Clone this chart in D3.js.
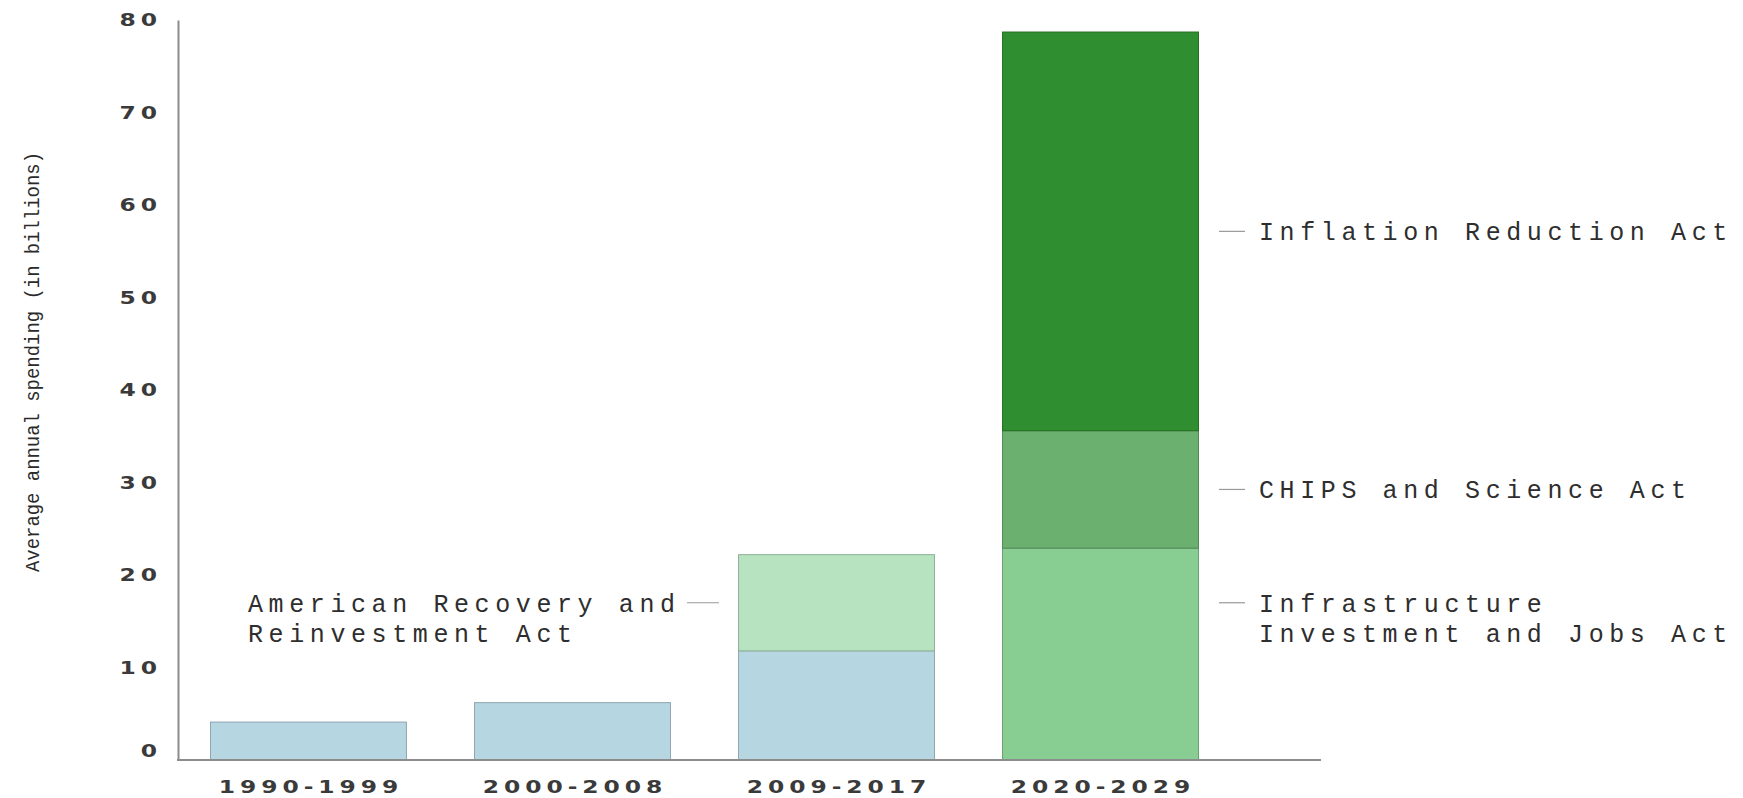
<!DOCTYPE html>
<html>
<head>
<meta charset="utf-8">
<script src="https://cdn.jsdelivr.net/npm/d3@7"></script>
<style>
  body { margin: 0; background: #fff; }
  svg { display: block; }
</style>
</head>
<body>
<div id="chart"></div>
<script>
// --- DATA ---
const periods = ["1990-1999", "2000-2008", "2009-2017", "2020-2029"];
const baseSpending = [4.1, 6.2, 11.8, 0];   // regular annual spending
const arraSpending = [0, 0, 10.4, 0];       // American Recovery and Reinvestment Act
const iijaSpending = [0, 0, 0, 22.9];       // Infrastructure Investment and Jobs Act
const chipsSpending = [0, 0, 0, 12.7];      // CHIPS and Science Act
const iraSpending = [0, 0, 0, 43.1];        // Inflation Reduction Act
const yTickValues = [0, 10, 20, 30, 40, 50, 60, 70, 80];

const seriesKeys = ["base", "arra", "iija", "chips", "ira"];
const seriesColors = {
  base: "#b6d6e2",
  arra: "#b7e3c0",
  iija: "#88cd91",
  chips: "#6bb06f",
  ira: "#2f8f30"
};
const seriesLabels = {
  arra: ["American Recovery and", "Reinvestment Act"],
  iija: ["Infrastructure", "Investment and Jobs Act"],
  chips: ["CHIPS and Science Act"],
  ira: ["Inflation Reduction Act"]
};

// --- SETUP ---
const W = 1743, H = 798;
const plotLeft = 178, plotRight = 1321, plotTop = 20, plotBottom = 760;

const svg = d3.select("#chart").append("svg")
  .attr("width", W)
  .attr("height", H);

const rows = periods.map((p, i) => ({
  period: p,
  base: baseSpending[i],
  arra: arraSpending[i],
  iija: iijaSpending[i],
  chips: chipsSpending[i],
  ira: iraSpending[i]
}));

const stacked = d3.stack().keys(seriesKeys)(rows);

const x = d3.scaleBand().domain(periods).range([210, 1199]).paddingInner(0.254).paddingOuter(0);
const y = d3.scaleLinear().domain([0, 80]).range([plotBottom, plotTop]);

// --- BARS ---
const layers = svg.append("g").selectAll("g")
  .data(stacked)
  .join("g")
  .attr("fill", d => seriesColors[d.key])
  .attr("stroke", d => d3.color(seriesColors[d.key]).darker(0.7))
  .attr("stroke-width", 1);

layers.selectAll("rect")
  .data(d => d.filter(s => s[1] - s[0] > 0))
  .join("rect")
  .attr("x", d => x(d.data.period) + 0.5)
  .attr("width", x.bandwidth() - 1)
  .attr("y", d => y(d[1]))
  .attr("height", d => y(d[0]) - y(d[1]));

// --- AXES ---
// tick font is a wide sans: stretch DejaVu Sans Bold horizontally
const tickFont = { family: "DejaVu Sans", size: 18, spacing: 3.8, stretch: 1.3 };
const styleTicks = sel => sel
  .attr("font-family", tickFont.family)
  .attr("font-weight", "bold")
  .attr("font-size", tickFont.size)
  .attr("letter-spacing", tickFont.spacing)
  .attr("fill", "#3a3a3a")
  .attr("transform", `scale(${tickFont.stretch},1)`);

const yAxis = svg.append("g")
  .attr("transform", `translate(${plotLeft},0)`)
  .call(d3.axisLeft(y).tickValues(yTickValues).tickSize(0).tickSizeOuter(0));

yAxis.select(".domain").attr("stroke", "#8c8c8c").attr("stroke-width", 2);
yAxis.selectAll("text").call(styleTicks).attr("x", -16 / tickFont.stretch);
yAxis.selectAll(".tick").filter(d => d === 0).select("text").attr("y", -9);

const xAxis = svg.append("g")
  .attr("transform", `translate(0,${plotBottom})`)
  .call(d3.axisBottom(x).tickSize(0).tickPadding(20));

xAxis.select(".domain").remove();
xAxis.selectAll("text").call(styleTicks).attr("dx", tickFont.spacing / 2);

svg.append("line")
  .attr("x1", plotLeft - 1).attr("x2", plotRight)
  .attr("y1", plotBottom).attr("y2", plotBottom)
  .attr("stroke", "#8c8c8c").attr("stroke-width", 2);

// y axis title
svg.append("text")
  .attr("transform", `translate(39,362) rotate(-90)`)
  .attr("text-anchor", "middle")
  .attr("font-family", "Liberation Mono")
  .attr("font-size", 21)
  .attr("textLength", 420)
  .attr("lengthAdjust", "spacingAndGlyphs")
  .attr("fill", "#2a2a2a")
  .text("Average annual spending (in billions)");

// --- ANNOTATIONS ---
const annoFont = { family: "Liberation Mono", size: 25, spacing: 5.6 };
const midOf = key => {
  const layer = stacked.find(s => s.key === key);
  const seg = layer.find(s => s[1] - s[0] > 0);
  return { seg, yMid: y((seg[0] + seg[1]) / 2) };
};

const annos = svg.append("g")
  .attr("font-family", annoFont.family)
  .attr("font-size", annoFont.size)
  .attr("letter-spacing", annoFont.spacing)
  .attr("fill", "#2e2e2e");

const arraInfo = midOf("arra");

["arra", "iija", "chips", "ira"].forEach(key => {
  const { seg, yMid } = midOf(key);
  const lines = seriesLabels[key];
  // two-line labels on the right share the row of the left label
  const ly = key === "iija" ? arraInfo.yMid : yMid;
  const x0 = x(seg.data.period);
  const x1 = x0 + x.bandwidth();

  if (key === "arra") {
    annos.append("line")
      .attr("x1", x0 - 51).attr("x2", x0 - 19)
      .attr("y1", ly).attr("y2", ly)
      .attr("stroke", "#999").attr("stroke-width", 1.2);
    const first = annos.append("text")
      .attr("x", x0 - 63 + annoFont.spacing)
      .attr("y", ly)
      .attr("dy", "0.35em")
      .attr("text-anchor", "end")
      .text(lines[0]);
    const startX = x0 - 63 + annoFont.spacing - first.node().getComputedTextLength();
    lines.slice(1).forEach((t, i) => {
      annos.append("text")
        .attr("x", startX)
        .attr("y", ly + 30 * (i + 1))
        .attr("dy", "0.35em")
        .text(t);
    });
  } else {
    annos.append("line")
      .attr("x1", x1 + 20).attr("x2", x1 + 46)
      .attr("y1", ly).attr("y2", ly)
      .attr("stroke", "#999").attr("stroke-width", 1.2);
    lines.forEach((t, i) => {
      annos.append("text")
        .attr("x", x1 + 60)
        .attr("y", ly + 30 * i)
        .attr("dy", "0.35em")
        .text(t);
    });
  }
});
</script>
</body>
</html>
